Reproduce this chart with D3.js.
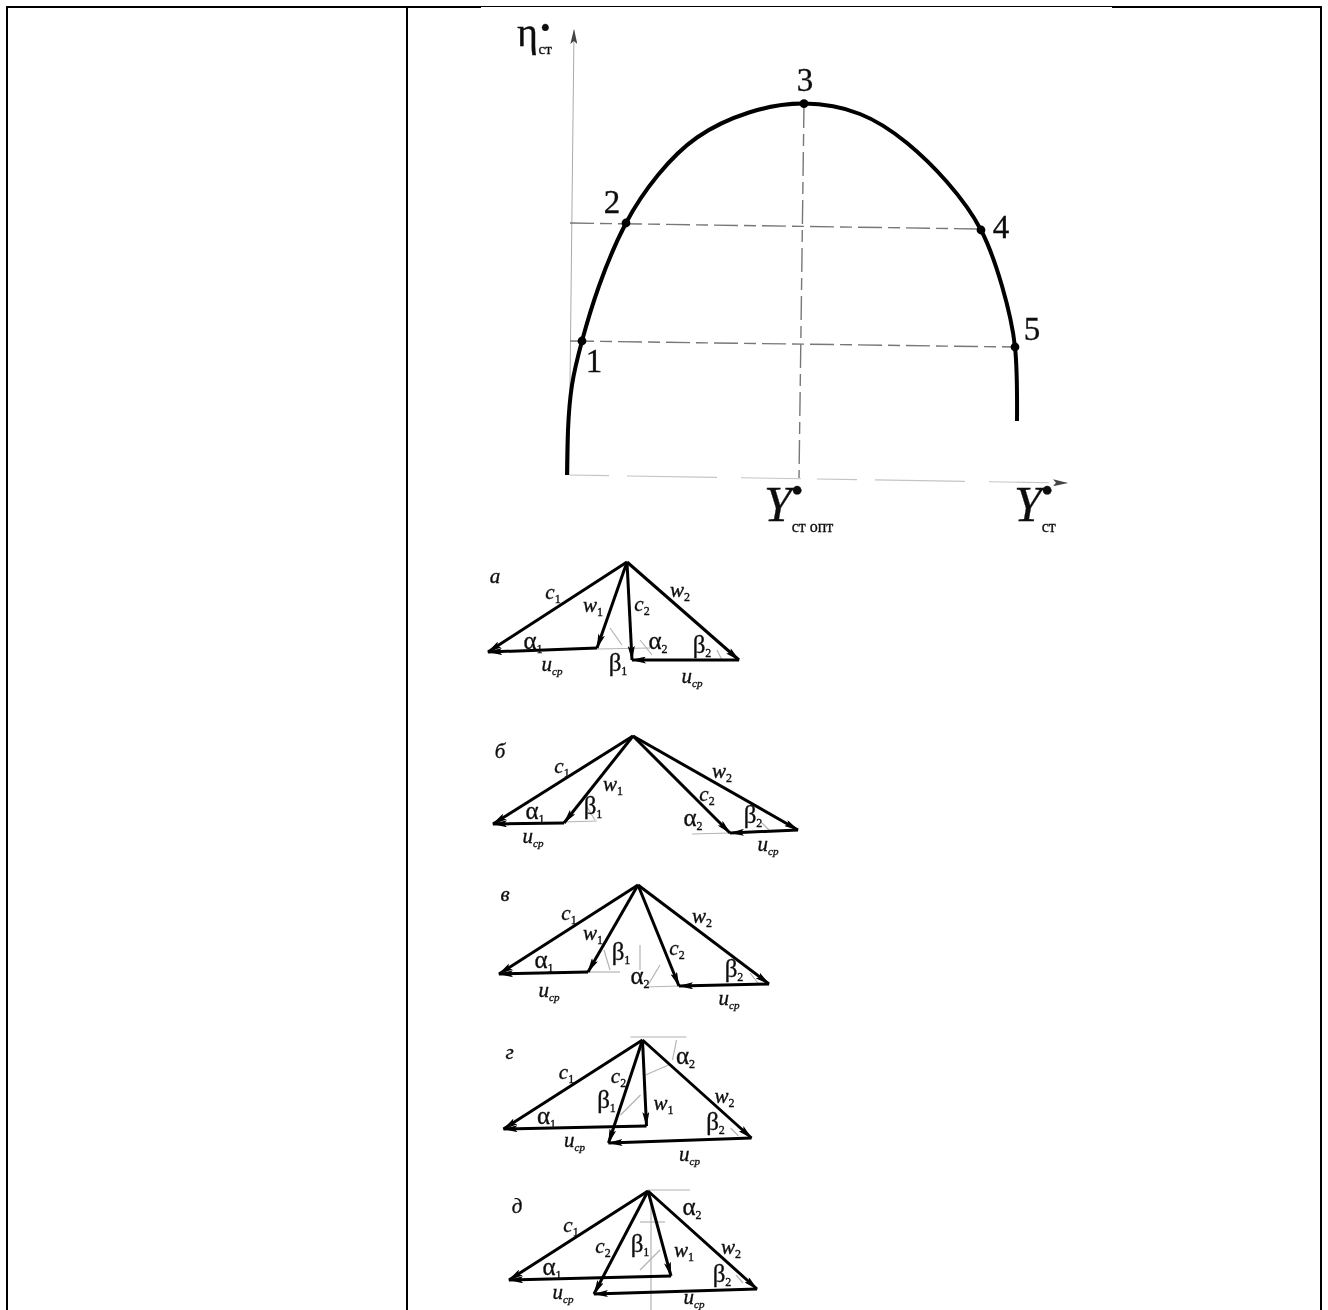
<!DOCTYPE html>
<html><head><meta charset="utf-8">
<script src="https://cdn.jsdelivr.net/npm/d3@7"></script>
<style>html,body{margin:0;padding:0;background:#fff;overflow:hidden}svg{display:block}text{font-family:"Liberation Serif",serif;fill:#111;stroke:#111;stroke-width:.35}</style>
</head><body><svg id="c" width="1328" height="1310"></svg>
<script>
// Efficiency curve: relative load Y* and stage efficiency eta*
const curveY   = [1,2,6,16,33,60,92,131,183,238,294,341,381,415,436,449,451];
const curveEta = [0,45,90,134,189,252,300,337.5,362.5,371.4,361,332,293,245,189,128,54];
const pointIndex = [3,5,9,13,15];
const pointNames = ["1","2","3","4","5"];
const pointLabelDx = [12,-14,1,20,17];
const pointLabelDy = [20,-21,-24,-3,-18];
// Guides: [Y0, eta0, Y1, eta1]
const guides = [[4,252,415,246],[4,134,449,128],[238,371,233,-3]];
// Velocity triangles
const panelNames = ["а","б","в","г","д"];
const panelNameDx = [-132,-133,-133,-133,-131];
const panelNameDy = [15,16,10,13,16];
const apexX = [627,633,638,642.5,648];
const apexY = [562,736,885,1040,1191];
const c1 = [[-139,90],[-140,88],[-139,89],[-139,89],[-139,89]];
const w1 = [[-30,86],[-69,87],[-50,87],[4,86],[23,85]];
const c2 = [[5,98],[97,97],[41,101],[-34,103],[-54,103]];
const w2 = [[112,98],[165,94],[131,99],[109,98],[109,98]];
// Thin construction lines, relative to apex
const construction = [
 [[[-30,87],[23,86]],[[-17,66],[-5,83]],[[13,78],[25,93]],[[90,88],[95,98]]],
 [[[-69,86],[-36,85]],[[59,98],[97,97]],[[-46,71],[-38,84]],[[128,86],[136,94]]],
 [[[-50,87],[-18,87]],[[7,102],[41,101]],[[22,80],[10,100]],[[-34,65],[-28,85]],[[2,60],[2,85]],[[112,88],[120,98]]],
 [[[-12,-3],[44,-3]],[[34,0],[30,20]],[[3,35],[26,25]],[[-22,75],[-2,55]],[[88,88],[96,96]]],
 [[[0,-1],[42,-1]],[[-8,31],[17,31]],[[-8,79],[12,59]],[[3,9],[3,119]],[[88,84],[95,92]]]
];
// Labels per panel, relative to apex: [symbol, sub, dx, dy]
const panelLabels = [
 [["c","1",-74,31],["w","1",-34,44],["c","2",15,43],["w","2",53,29],["α","1",-94,81],["u","ср",-75,103],["β","1",-9,103],["α","2",31,81],["β","2",75,85],["u","ср",65,115]],
 [["c","1",-71,31],["w","1",-20,49],["β","1",-40,72],["α","1",-98,77],["u","ср",-100,101],["c","2",74,59],["α","2",60,84],["β","2",120,81],["w","2",89,36],["u","ср",135,109]],
 [["c","1",-69,29],["w","1",-45,49],["β","1",-17,69],["α","1",-94,77],["u","ср",-89,106],["c","2",39,64],["α","2",2,93],["β","2",96,86],["w","2",64,32],["u","ср",91,114]],
 [["c","1",-76,33],["c","2",-24,37],["α","2",43,18],["β","1",-36,62],["w","1",21,64],["α","1",-96,78],["u","ср",-68,101],["β","2",73,84],["w","2",82,57],["u","ср",47,115]],
 [["c","1",-77,35],["c","2",-45,56],["β","1",-8,55],["w","1",36,60],["α","2",44,18],["α","1",-96,78],["u","ср",-85,102],["β","2",74,85],["w","2",83,57],["u","ср",46,107]]
];

const svg = d3.select("#c");
const defs = svg.append("defs");
defs.append("filter").attr("id","scan").attr("x","-5%").attr("y","-5%").attr("width","110%").attr("height","110%")
  .append("feGaussianBlur").attr("stdDeviation",0.75);
const mk = (id,w,h,col)=>defs.append("marker").attr("id",id).attr("markerUnits","userSpaceOnUse")
  .attr("markerWidth",w).attr("markerHeight",h).attr("refX",w-1).attr("refY",h/2).attr("orient","auto")
  .append("path").attr("d",`M0,0L${w},${h/2}L0,${h}L${w*0.2},${h/2}Z`).attr("fill",col);
mk("arrow",15,7,"#000"); mk("axisArrow",15,7,"#444");

// Table frame
const tableX = d3.scaleLinear().domain([0,1]).range([0,1328]);
const frameCols=[7/1328,407/1328,1321/1328];
svg.append("g").selectAll("line").data(frameCols).join("line")
  .attr("x1",d=>tableX(d)).attr("x2",d=>tableX(d)).attr("y1",6).attr("y2",1310)
  .attr("stroke","#000").attr("stroke-width",2);
svg.append("line").attr("x1",6).attr("x2",1322).attr("y1",7).attr("y2",7).attr("stroke","#000").attr("stroke-width",2);
svg.append("rect").attr("x",481).attr("y",7).attr("width",631).attr("height",1303).attr("fill","#fff");

const g = svg.append("g").attr("filter","url(#scan)");
const x = d3.scaleLinear().domain([0,500]).range([566,1066]);
const y = d3.scaleLinear().domain([0,440]).range([475,35]);

// Axes
g.append("line").attr("x1",x(3)).attr("y1",y(0)).attr("x2",x(8)).attr("y2",y(445))
  .attr("stroke","#aaa").attr("stroke-width",1).attr("marker-end","url(#axisArrow)");
g.append("line").attr("x1",x(3)).attr("y1",y(0)).attr("x2",x(501)).attr("y2",y(-8))
  .attr("stroke","#c4c4c4").attr("stroke-width",1.1).attr("stroke-dasharray","40 18 90 24 60 16").attr("marker-end","url(#axisArrow)");
// Guides
g.append("g").selectAll("line").data(guides).join("line")
  .attr("x1",d=>x(d[0])).attr("y1",d=>y(d[1])).attr("x2",d=>x(d[2]))
  .attr("y2",d=>y(d[3])).attr("stroke","#777").attr("stroke-width",1.4).attr("stroke-dasharray","24 6 12 6");
// Curve
const line = d3.line().x(d=>x(d[0])).y(d=>y(d[1])).curve(d3.curveNatural);
g.append("path").datum(d3.zip(curveY,curveEta)).attr("d",line).attr("fill","none").attr("stroke","#000").attr("stroke-width",4);
g.append("g").selectAll("circle").data(pointIndex).join("circle")
  .attr("cx",i=>x(curveY[i])).attr("cy",i=>y(curveEta[i])).attr("r",4.4).attr("fill","#000");
g.append("g").selectAll("text").data(pointIndex).join("text")
  .attr("x",(i,k)=>x(curveY[i])+pointLabelDx[k]).attr("y",(i,k)=>y(curveEta[i])+pointLabelDy[k]+11)
  .attr("text-anchor","middle").attr("font-size",33).text((i,k)=>pointNames[k]);

// Axis titles: one text element each, with the dot and the subscript as tspans
function title(px,py,sym,sub,size,subSize,italic,dotDx,dotDy,subDx,subDy){
  const t=g.append("text").attr("x",px).attr("y",py);
  t.append("tspan").attr("font-size",size).attr("font-style",italic?"italic":"normal").text(sym);
  t.append("tspan").attr("dx",dotDx).attr("dy",dotDy).attr("font-size",size*0.62).attr("font-weight","bold").text("•");
  t.append("tspan").attr("dx",subDx).attr("dy",subDy-dotDy).attr("font-size",subSize).text(sub);
}
title(517,46,"η","ст",40,15,false,3,-10,-11,8);
title(764,521,"Y","ст опт",50,16,true,0,-20,-11,11);
title(1014,521,"Y","ст",50,16,true,0,-20,-11,11);

// Velocity triangles
panelNames.forEach((name,i)=>{
  const sx=d3.scaleLinear().domain([-200,200]).range([apexX[i]-200,apexX[i]+200]);
  const sy=d3.scaleLinear().domain([0,200]).range([apexY[i],apexY[i]+200]);
  const p=g.append("g");
  p.selectAll("path.thin").data(construction[i]).join("path").attr("class","thin")
    .attr("d",d3.line().x(d=>sx(d[0])).y(d=>sy(d[1]))).attr("fill","none").attr("stroke","#b4b4b4").attr("stroke-width",1.2);
  const segs=[[[0,0],c1[i]],[[0,0],w1[i]],[[0,0],c2[i]],[[0,0],w2[i]],[w1[i],c1[i]],[w2[i],c2[i]]];
  p.selectAll("line.v").data(segs).join("line").attr("class","v")
    .attr("x1",d=>sx(d[0][0])).attr("y1",d=>sy(d[0][1])).attr("x2",d=>sx(d[1][0])).attr("y2",d=>sy(d[1][1]))
    .attr("stroke","#000").attr("stroke-width",3).attr("marker-end","url(#arrow)");
  p.append("text").attr("x",sx(panelNameDx[i])).attr("y",sy(panelNameDy[i])+6).attr("font-size",21)
    .attr("font-style","italic").attr("text-anchor","middle").attr("fill","#333").text(name);
  panelLabels[i].forEach(l=>{
    const greek=l[0]==="α"||l[0]==="β";
    const t=p.append("text").attr("x",sx(l[2])).attr("y",sy(l[3])+6).attr("text-anchor","middle");
    t.append("tspan").attr("font-size",greek?25:21).attr("font-style",greek?"normal":"italic").text(l[0]);
    t.append("tspan").attr("dy",4).attr("font-size",l[1]==="ср"?11:12).attr("font-style",l[1]==="ср"?"italic":"normal").text(l[1]);
  });
});
</script></body></html>
